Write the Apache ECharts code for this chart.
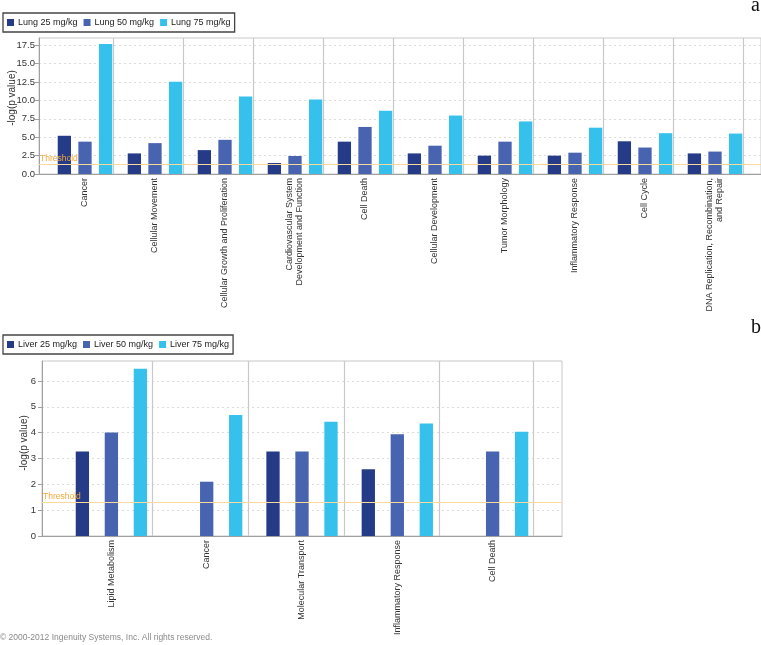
<!DOCTYPE html>
<html><head><meta charset="utf-8">
<script src="https://cdn.jsdelivr.net/npm/echarts@6/dist/echarts.min.js"></script>
<style>html,body{margin:0;padding:0;background:#fff}#c{width:761px;height:645px}</style>
</head><body><div id="c"></div>
<script>
// ---- data ----
const lungCategories = ['Cancer', 'Cellular Movement', 'Cellular Growth and Proliferation',
  'Cardiovascular System\nDevelopment and Function', 'Cell Death', 'Cellular Development',
  'Tumor Morphology', 'Inflammatory Response', 'Cell Cycle', 'DNA Replication, Recombination,\nand Repair'];
const lungSeriesNames = ['Lung 25 mg/kg', 'Lung 50 mg/kg', 'Lung 75 mg/kg'];
const lung25 = [5.2, 2.8, 3.25, 1.5, 4.4, 2.8, 2.5, 2.5, 4.45, 2.8];
const lung50 = [4.4, 4.2, 4.65, 2.45, 6.4, 3.85, 4.4, 2.9, 3.6, 3.05];
const lung75 = [17.7, 12.55, 10.55, 10.15, 8.6, 7.95, 7.15, 6.3, 5.55, 5.5];
const lungYTicks = [0, 2.5, 5, 7.5, 10, 12.5, 15, 17.5];

const liverCategories = ['Lipid Metabolism', 'Cancer', 'Molecular Transport', 'Inflammatory Response', 'Cell Death'];
const liverSeriesNames = ['Liver 25 mg/kg', 'Liver 50 mg/kg', 'Liver 75 mg/kg'];
const liver25 = [3.27, null, 3.27, 2.58, null];
const liver50 = [4.0, 2.1, 3.27, 3.94, 3.27];
const liver75 = [6.47, 4.68, 4.42, 4.35, 4.03];
const liverYTicks = [0, 1, 2, 3, 4, 5, 6];

const thresholdValue = 1.3;
const thresholdLabel = 'Threshold';
const yTitle = '-log(p value)';
const copyright = '\u00a9 2000-2012 Ingenuity Systems, Inc. All rights reserved.';

// ---- styling ----
const colors = ['#263b87', '#4863b0', '#35c1ec'];
const FONT = 'Liberation Sans';
const gridLineColor = '#dcdcdc';
const frameColor = '#c8c8c8';
const axisColor = '#a0a0a0';
const textColor = '#333';

const chart = echarts.init(document.getElementById('c'), null, {renderer: 'canvas'});

function pairs(arr) { return arr.map((v, i) => [i, v == null ? '-' : v]); }

function makeX(gridIndex, cats, pad) {
  return {
    type: 'value', gridIndex,
    min: -pad, max: cats.length - 1 + pad,
    axisLine: {show: true, onZero: false, lineStyle: {color: axisColor, width: 1}},
    axisTick: {show: false},
    splitLine: {show: false},
    axisLabel: {
      customValues: cats.map((c, i) => i),
      formatter: v => cats[Math.round(v)] || '',
      rotate: 90, margin: 4, color: textColor, fontFamily: FONT, fontSize: 9, lineHeight: 10
    }
  };
}
function makeY(gridIndex, ticks, max, interval, dec, margin, namePad, nameGap) {
  return {
    type: 'value', gridIndex, min: 0, max, interval,
    name: yTitle, nameLocation: 'middle', nameRotate: 90, nameGap, nameMoveOverlap: false,
    nameTextStyle: {color: textColor, fontFamily: FONT, fontSize: 10, padding: [0, 0, 0, namePad]},
    axisLine: {show: true, onZero: false, lineStyle: {color: axisColor}},
    axisTick: {show: true, length: 4, customValues: ticks, lineStyle: {color: axisColor}},
    splitLine: {show: true, lineStyle: {color: gridLineColor, type: [2, 3]}},
    axisLabel: {
      margin, color: textColor, fontFamily: FONT, fontSize: 9.5, customValues: ticks,
      formatter: v => v.toFixed(dec)
    }
  };
}
function sepLines(cats, off) {
  return {
    silent: true, symbol: ['none', 'none'], label: {show: false},
    lineStyle: {color: frameColor, type: 'solid', width: 1.2},
    data: cats.map((c, i) => ({xAxis: i + off}))
  };
}
function thresholdLine() {
  return {
    silent: true, symbol: ['none', 'none'],
    lineStyle: {color: '#fbd89c', type: 'solid', width: 1.2},
    label: {show: true, formatter: thresholdLabel, position: 'insideStartTop', distance: [1, 1],
      color: '#f3a838', fontFamily: FONT, fontSize: 8.5},
    data: [{yAxis: thresholdValue}]
  };
}
function barSeries(name, arr, idx, gi, gap, sep, cats) {
  const s = {
    type: 'bar', name, xAxisIndex: gi, yAxisIndex: gi, data: pairs(arr),
    barWidth: 13.3, barGap: gap, itemStyle: {color: colors[idx]},
    emphasis: {disabled: true}
  };
  if (idx === 1) s.markLine = sepLines(cats, sep);
  if (idx === 2) s.markLine = thresholdLine();
  return s;
}
function legend(names, top) {
  return {
    data: names, left: 3, top, orient: 'horizontal',
    icon: 'rect', itemWidth: 7, itemHeight: 7, itemGap: 6,
    padding: [5, 4, 5, 4], borderColor: '#444', borderWidth: 1.3,
    textStyle: {color: '#222', fontFamily: FONT, fontSize: 9, padding: [0, 0, 0, -1]}
  };
}

const option = {
  animation: false,
  color: colors,
  legend: [legend(lungSeriesNames, 13), legend(liverSeriesNames, 335)],
  grid: [
    {left: 39, top: 38, width: 722, height: 136, show: true, borderColor: frameColor, borderWidth: 1,
      containLabel: false, outerBoundsMode: 'none'},
    {left: 42, top: 361, width: 520, height: 175, show: true, borderColor: frameColor, borderWidth: 1,
      containLabel: false, outerBoundsMode: 'none'}
  ],
  xAxis: [makeX(0, lungCategories, 0.657), makeX(1, liverCategories, 0.728)],
  yAxis: [
    makeY(0, lungYTicks, 18.5, 2.5, 1, 4, 16, 22),
    makeY(1, liverYTicks, 6.77, 1, 0, 6, 11, 13)
  ],
  series: [
    barSeries(lungSeriesNames[0], lung25, 0, 0, '55%', 0.4, lungCategories),
    barSeries(lungSeriesNames[1], lung50, 1, 0, '55%', 0.4, lungCategories),
    barSeries(lungSeriesNames[2], lung75, 2, 0, '55%', 0.4, lungCategories),
    barSeries(liverSeriesNames[0], liver25, 0, 1, '118%', 0.435, liverCategories),
    barSeries(liverSeriesNames[1], liver50, 1, 1, '118%', 0.435, liverCategories),
    barSeries(liverSeriesNames[2], liver75, 2, 1, '118%', 0.435, liverCategories)
  ],
  graphic: [
    {type: 'text', left: 751, top: -4, style: {text: 'a', fontFamily: 'Liberation Serif', fontSize: 20, fill: '#111'}},
    {type: 'text', left: 751, top: 318, style: {text: 'b', fontFamily: 'Liberation Serif', fontSize: 20, fill: '#111'}},
    {type: 'text', left: 0, top: 633, style: {text: copyright, fontFamily: FONT, fontSize: 8.5, fill: '#8a8a8a'}}
  ]
};
chart.setOption(option);
</script></body></html>
